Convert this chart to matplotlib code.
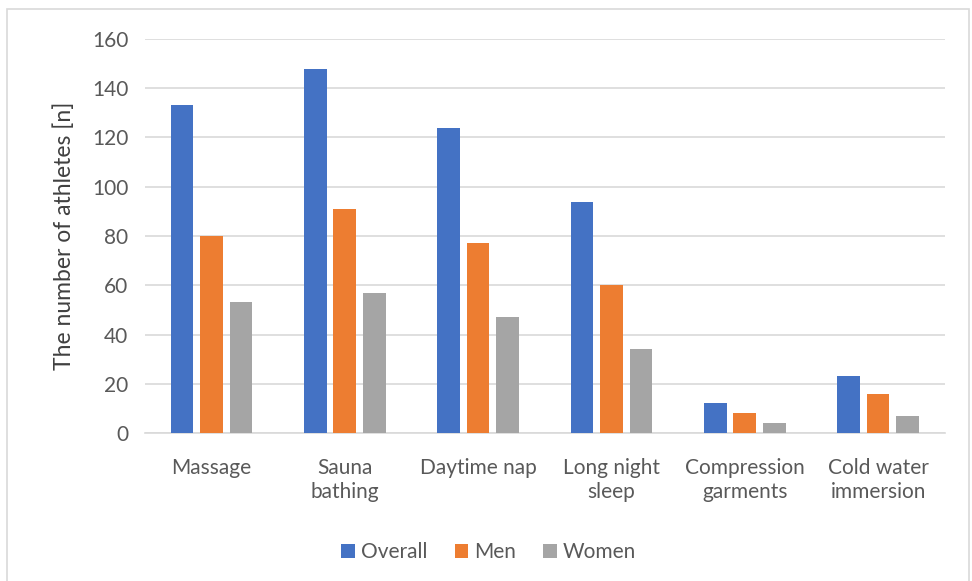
import numpy as np
import matplotlib.pyplot as plt
from matplotlib.patches import Rectangle

plt.rcParams['font.family'] = ['Lato', 'DejaVu Sans']

categories = ['Massage', 'Sauna\nbathing', 'Daytime nap', 'Long night\nsleep',
              'Compression\ngarments', 'Cold water\nimmersion']
overall = [133, 148, 124, 94, 12, 23]
men = [80, 91, 77, 60, 8, 16]
women = [53, 57, 47, 34, 4, 7]

series = [('Overall', overall, '#4472C4'),
          ('Men', men, '#ED7D31'),
          ('Women', women, '#A5A5A5')]

fig = plt.figure(figsize=(9.72, 5.81), dpi=100)
ax = fig.add_axes([0.149, 0.2547, 0.823, 0.6782])

# outer chart border
fig.patches.append(Rectangle((0.007, -0.01), 0.99, 0.995, transform=fig.transFigure,
                             fill=False, edgecolor='#D9D9D9', linewidth=1.2))

x = np.arange(len(categories))
width = 0.17
step = 0.222
for i, (name, vals, color) in enumerate(series):
    ax.bar(x + (i - 1) * step, vals, width, color=color, label=name, zorder=3)

ax.set_xlim(-0.5, len(categories) - 0.5)
ax.set_ylim(0, 160)
ax.set_yticks(np.arange(0, 161, 20))
ax.yaxis.grid(True, color='#D9D9D9', linewidth=1.2, zorder=0)
for s in ['top', 'right', 'left']:
    ax.spines[s].set_visible(False)
ax.spines['bottom'].set_color('#D9D9D9')
ax.spines['bottom'].set_linewidth(1.2)
ax.tick_params(axis='y', length=0, labelsize=15, colors='#595959', pad=12)
ax.tick_params(axis='x', length=0, labelsize=15, colors='#595959', pad=18)
ax.set_xticks(x)
ax.set_xticklabels(categories, linespacing=1.25)
ax.set_ylabel('The number of athletes [n]', fontsize=16.5, color='#404040', labelpad=12)

ax.legend(loc='upper center', bbox_to_anchor=(0.43, -0.23), ncol=3, frameon=False,
          fontsize=15, handlelength=0.65, handleheight=0.65, handletextpad=0.3,
          columnspacing=1.3, labelcolor='#595959')

plt.savefig('out.png', dpi=100)
